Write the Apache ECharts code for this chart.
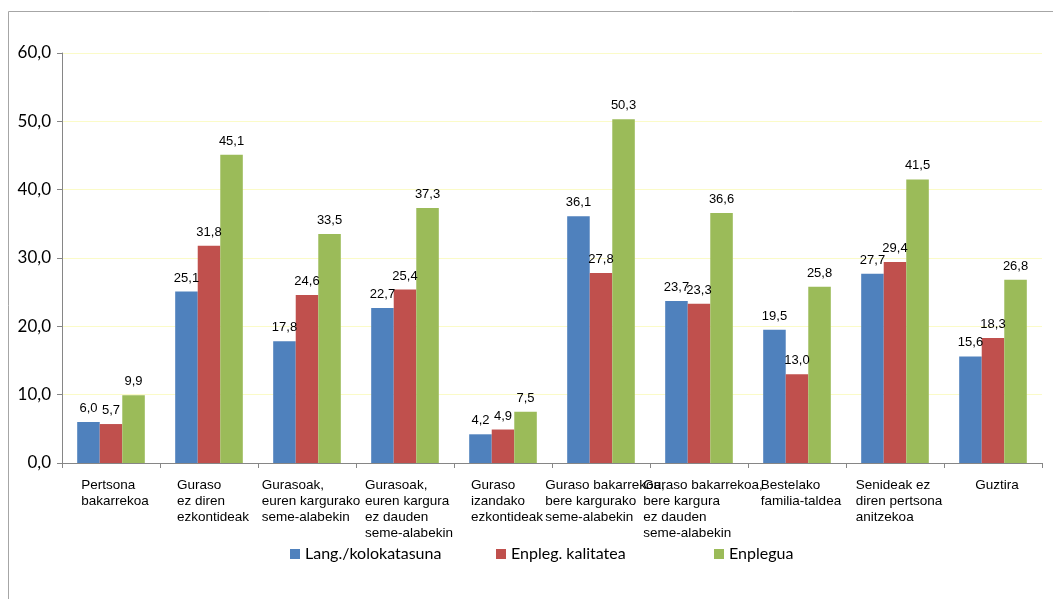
<!DOCTYPE html>
<html>
<head>
<meta charset="utf-8">
<script src="https://cdn.jsdelivr.net/npm/echarts@6/dist/echarts.min.js"></script>
<style>
html,body{margin:0;padding:0;background:#fff;}
#c{width:1053px;height:599px;}
</style>
</head>
<body>
<div id="c"></div>
<script>
const categories = [
  "Pertsona\nbakarrekoa",
  "Guraso\nez diren\nezkontideak",
  "Gurasoak,\neuren kargurako\nseme-alabekin",
  "Gurasoak,\neuren kargura\nez dauden\nseme-alabekin",
  "Guraso\nizandako\nezkontideak",
  "Guraso bakarrekoa,\nbere kargurako\nseme-alabekin",
  "Guraso bakarrekoa,\nbere kargura\nez dauden\nseme-alabekin",
  "Bestelako\nfamilia-taldea",
  "Senideak ez\ndiren pertsona\nanitzekoa",
  "Guztira"
];
const seriesNames = ["Lang./kolokatasuna", "Enpleg. kalitatea", "Enplegua"];
const langKolokatasuna = [6.0, 25.1, 17.8, 22.7, 4.2, 36.1, 23.7, 19.5, 27.7, 15.6];
const enplegKalitatea  = [5.7, 31.8, 24.6, 25.4, 4.9, 27.8, 23.3, 13.0, 29.4, 18.3];
const enplegua         = [9.9, 45.1, 33.5, 37.3, 7.5, 50.3, 36.6, 25.8, 41.5, 26.8];
const yTicks = [0, 10, 20, 30, 40, 50, 60];

const colors = ["#4F81BD", "#C0504D", "#9BBB59"];
const fmt = v => Number(v).toFixed(1).replace('.', ',');
const legendFont = "Lato, 'Open Sans', sans-serif";

const chart = echarts.init(document.getElementById('c'), null, {renderer: 'canvas'});

function mkSeries(name, data, color) {
  return {
    name: name,
    type: 'bar',
    data: data,
    barGap: '0%',
    barCategoryGap: '31%',
    itemStyle: {color: color},
    label: {
      show: true,
      position: 'top',
      distance: 7,
      fontFamily: "'Liberation Sans', Arial, sans-serif",
      fontSize: 13,
      color: '#000',
      formatter: p => fmt(p.value)
    }
  };
}

const legendLefts = [290, 496, 714];

chart.setOption({
  animation: false,
  color: colors,
  graphic: [{
    type: 'rect',
    shape: {x: 8.5, y: 11.5, width: 1200, height: 800},
    style: {fill: 'none', stroke: '#A6A6A6', lineWidth: 1},
    silent: true
  }],
  grid: {left: 62, right: 11, top: 53, bottom: 136, containLabel: false},
  legend: seriesNames.map((n, i) => ({
    data: [n],
    left: legendLefts[i],
    top: 546,
    icon: 'rect',
    itemWidth: 10,
    itemHeight: 10,
    itemGap: 4,
    padding: 0,
    textStyle: {fontFamily: legendFont, fontSize: 16, color: '#000'}
  })),
  xAxis: {
    type: 'category',
    data: categories,
    axisLine: {show: true, lineStyle: {color: '#868686', width: 1}},
    axisTick: {show: true, length: 5, lineStyle: {color: '#868686'}},
    axisLabel: {
      interval: 0,
      hideOverlap: false,
      margin: 14,
      padding: [0, 0, 0, 8],
      formatter: v => '{a|' + v.split('\n').join('}\n{a|') + '}',
      rich: {
        a: {
          fontFamily: "'Liberation Sans', Arial, sans-serif",
          fontSize: 13.5,
          lineHeight: 16,
          color: '#000',
          align: 'left'
        }
      }
    },
    splitLine: {show: false}
  },
  yAxis: {
    type: 'value',
    min: 0,
    max: 60,
    interval: 10,
    axisLine: {show: true, lineStyle: {color: '#868686', width: 1}},
    axisTick: {show: true, length: 5, lineStyle: {color: '#868686'}},
    axisLabel: {
      margin: 11,
      fontFamily: legendFont,
      fontSize: 17,
      color: '#000',
      formatter: v => yTicks.includes(v) ? fmt(v) : ''
    },
    splitLine: {show: true, lineStyle: {color: '#FBFBC8', width: 1}}
  },
  series: [
    mkSeries(seriesNames[0], langKolokatasuna, colors[0]),
    mkSeries(seriesNames[1], enplegKalitatea, colors[1]),
    mkSeries(seriesNames[2], enplegua, colors[2])
  ]
});
</script>
</body>
</html>
